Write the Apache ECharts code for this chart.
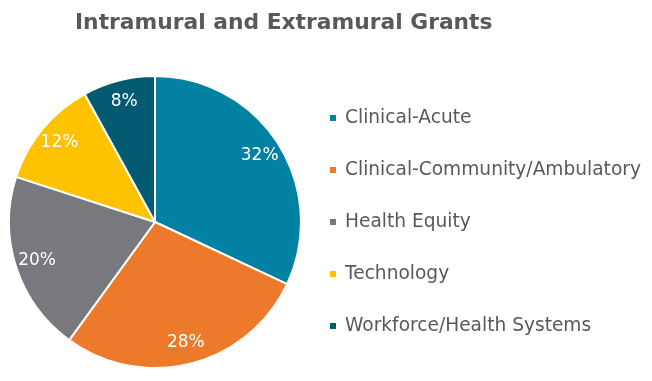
<!DOCTYPE html>
<html><head><meta charset="utf-8">
<script src="https://cdn.jsdelivr.net/npm/echarts@6/dist/echarts.min.js"></script>
<style>html,body{margin:0;padding:0;background:#fff}#c{width:652px;height:381px}</style>
</head><body><div id="c"></div>
<script>
const categories = ['Clinical-Acute','Clinical-Community/Ambulatory','Health Equity','Technology','Workforce/Health Systems'];
const values = [32, 28, 20, 12, 8];
const colors = ['#0381A3','#ED7A2A','#77797E','#FEC300','#045A71'];
const data = categories.map((n,i)=>({name:n,value:values[i],itemStyle:{color:colors[i]}}));
const chart = echarts.init(document.getElementById('c'));
chart.setOption({
  animation:false,
  title:{text:'Intramural and Extramural Grants',left:70,top:7,
    textStyle:{fontFamily:'DejaVu Sans',fontWeight:'bold',fontSize:21.8,color:'#595959'}},
  legend:{orient:'vertical',left:323,top:103,itemWidth:8,itemHeight:8,itemGap:32,icon:'rect',
    textStyle:{fontFamily:'DejaVu Sans',fontSize:18.6,color:'#595959',lineHeight:20,padding:[0,0,0,3]},
    data:categories},
  series:[
    {type:'pie',center:[155,222],radius:[0,146],startAngle:90,clockwise:true,
     itemStyle:{borderColor:'#fff',borderWidth:2},label:{show:false},labelLine:{show:false},
     data:data},
    {type:'pie',center:[155,222],radius:[96,146],startAngle:90,clockwise:true,silent:true,
     itemStyle:{color:'rgba(0,0,0,0)',borderWidth:0},
     label:{show:true,position:'inside',formatter:'{c}%',color:'#fff',fontFamily:'DejaVu Sans',fontSize:17},
     labelLine:{show:false},
     data:categories.map((n,i)=>({name:n,value:values[i],itemStyle:{color:'rgba(0,0,0,0)'}}))}
  ]
});
</script></body></html>
